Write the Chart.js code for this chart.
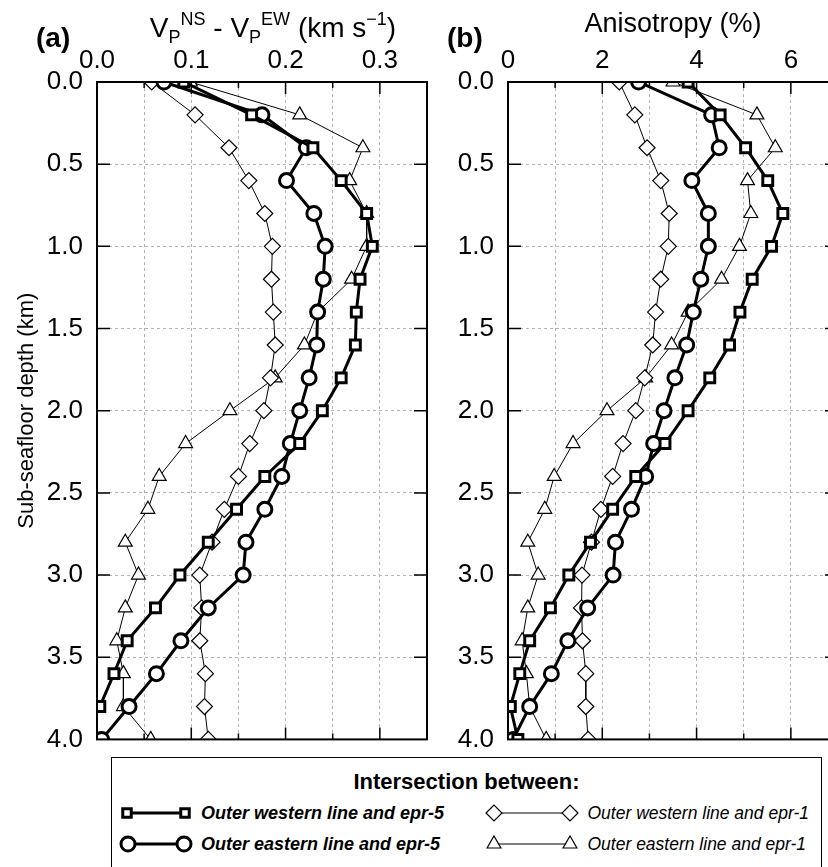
<!DOCTYPE html>
<html>
<head>
<meta charset="utf-8">
<script src="https://cdn.jsdelivr.net/npm/chart.js@4.4.1/dist/chart.umd.min.js"></script>
<style>
  html, body { margin: 0; padding: 0; background: #fff; overflow: hidden; }
  body { width: 828px; height: 867px; position: relative; font-family: 'Liberation Sans', Arial, sans-serif; }
  #panelA { position: absolute; left: 0; top: 0; }
  #panelB { position: absolute; left: 440px; top: 0; }
  #legend { position: absolute; left: 111px; top: 757px; width: 711px; height: 140px;
            border: 1.5px solid #000; box-sizing: border-box; background: #fff; }
  #legend .ltitle { position: absolute; left: 0; right: 0; top: 11px; text-align: center;
                    font-weight: bold; font-size: 22px; white-space: nowrap; }
  #legend .item { position: absolute; display: flex; align-items: center; height: 24px;
                  font-size: 18px; font-style: italic; white-space: nowrap; }
  #legend .item canvas { margin-right: 8px; }
</style>
</head>
<body>
<canvas id="panelA" width="440" height="769"></canvas>
<canvas id="panelB" width="410" height="769"></canvas>
<div id="legend"><div class="ltitle">Intersection between:</div></div>

<script>
// ---------------------------------------------------------
// Data
// ---------------------------------------------------------
const depths = [0.0, 0.2, 0.4, 0.6, 0.8, 1.0, 1.2, 1.4, 1.6, 1.8, 2.0,
                2.2, 2.4, 2.6, 2.8, 3.0, 3.2, 3.4, 3.6, 3.8, 4.0];

// (a) VP(NS) - VP(EW), km/s
const westEpr5Vel = [0.092, 0.164, 0.229, 0.259, 0.286, 0.292, 0.279, 0.275, 0.274, 0.259, 0.239,
                     0.215, 0.178, 0.148, 0.118, 0.088, 0.062, 0.032, 0.018, 0.003, -0.02];
const eastEpr5Vel = [0.071, 0.175, 0.222, 0.201, 0.230, 0.242, 0.240, 0.234, 0.233, 0.225, 0.215,
                     0.205, 0.196, 0.178, 0.158, 0.155, 0.118, 0.089, 0.063, 0.034, 0.005];
const westEpr1Vel = [0.058, 0.104, 0.140, 0.161, 0.178, 0.186, 0.185, 0.187, 0.189, 0.184, 0.177,
                     0.162, 0.150, 0.135, 0.122, 0.109, 0.111, 0.109, 0.115, 0.114, 0.118];
const eastEpr1Vel = [0.099, 0.215, 0.282, 0.268, 0.286, 0.286, 0.270, 0.234, 0.220, 0.189, 0.141,
                     0.094, 0.066, 0.054, 0.030, 0.044, 0.030, 0.021, 0.028, 0.028, 0.057];

// (b) anisotropy, %
const westEpr5Ani = [3.82, 4.50, 5.04, 5.51, 5.83, 5.59, 5.18, 4.92, 4.70, 4.28, 3.82,
                     3.33, 2.71, 2.22, 1.75, 1.29, 0.90, 0.46, 0.25, 0.05, 0.21];
const eastEpr5Ani = [2.77, 4.32, 4.48, 3.90, 4.25, 4.25, 4.09, 3.93, 3.79, 3.54, 3.31,
                     3.09, 2.92, 2.62, 2.28, 2.23, 1.69, 1.27, 0.92, 0.46, 0.11];
const westEpr1Ani = [2.36, 2.69, 2.95, 3.24, 3.42, 3.40, 3.24, 3.13, 3.07, 2.90, 2.71,
                     2.44, 2.22, 1.97, 1.77, 1.57, 1.56, 1.58, 1.65, 1.65, 1.70];
const eastEpr1Ani = [3.50, 5.28, 5.67, 5.08, 5.15, 4.91, 4.53, 3.82, 3.47, 2.92, 2.10,
                     1.38, 0.98, 0.78, 0.42, 0.64, 0.42, 0.30, 0.39, 0.46, 0.81];

const seriesNames = ['Outer western line and epr-5', 'Outer eastern line and epr-5',
                     'Outer western line and epr-1', 'Outer eastern line and epr-1'];

const depthTicks = [0, 0.5, 1, 1.5, 2, 2.5, 3, 3.5, 4];

// ---------------------------------------------------------
// Styles
// ---------------------------------------------------------
const FONT = "'Liberation Sans', Arial, sans-serif";
const GRID = '#b4b4b4';
Chart.defaults.font.family = FONT;
Chart.defaults.color = '#000';

const STYLES = [
  { pointStyle: 'rect',     pointRadius: 7, borderWidth: 3, pointBorderWidth: 3 },
  { pointStyle: 'circle',   pointRadius: 7, borderWidth: 3, pointBorderWidth: 3 },
  { pointStyle: 'rectRot',  pointRadius: 8, borderWidth: 1, pointBorderWidth: 1.2 },
  { pointStyle: 'triangle', pointRadius: 8, borderWidth: 1, pointBorderWidth: 1.2 },
];

function makeDatasets(seriesList) {
  return seriesList.map((vals, k) => ({
    label: seriesNames[k],
    data: depths.map((d, i) => ({ x: vals[i], y: d })),
    showLine: true,
    borderColor: '#000',
    backgroundColor: '#fff',
    pointBackgroundColor: '#fff',
    pointBorderColor: '#000',
    pointHoverRadius: STYLES[k].pointRadius,
    clip: 0,
    ...STYLES[k],
  }));
}

// frame + inward tick marks
const framePlugin = {
  id: 'frame',
  afterDatasetsDraw(chart, args, opts) {
    const { ctx, chartArea: a, scales } = chart;
    ctx.save();
    ctx.strokeStyle = '#000';
    ctx.lineWidth = 1.5;
    ctx.beginPath();
    scales.x.ticks.forEach(t => {
      const px = scales.x.getPixelForValue(t.value);
      if (px <= a.left + 1 || px >= a.right - 1) return;
      const len = opts.isMajorX(t.value) ? 12 : 6;
      ctx.moveTo(px, a.top); ctx.lineTo(px, a.top + len);
      ctx.moveTo(px, a.bottom); ctx.lineTo(px, a.bottom - len);
    });
    depthTicks.forEach(v => {
      const py = scales.y.getPixelForValue(v);
      if (py <= a.top + 1 || py >= a.bottom - 1) return;
      ctx.moveTo(a.left, py); ctx.lineTo(a.left + 13, py);
      ctx.moveTo(a.right, py); ctx.lineTo(a.right - 13, py);
    });
    ctx.stroke();
    ctx.lineWidth = 2;
    ctx.strokeRect(a.left, a.top, a.right - a.left, a.bottom - a.top);
    ctx.restore();
  },
};

// panel letter + rich axis title (sub/superscripts)
const textPlugin = {
  id: 'panelText',
  afterDraw(chart, args, opts) {
    const { ctx } = chart;
    ctx.save();
    ctx.fillStyle = '#000';
    ctx.textBaseline = 'alphabetic';
    ctx.font = 'bold 28px ' + FONT;
    ctx.fillText(opts.letter, opts.letterX, 47);
    if (opts.rich) {
      const big = '28px ' + FONT, small = '18px ' + FONT;
      let w = 0;
      opts.rich.forEach(([s, kind]) => {
        ctx.font = kind === 'n' ? big : small;
        w += ctx.measureText(s).width;
      });
      let x = opts.richX - w / 2;
      opts.rich.forEach(([s, kind]) => {
        ctx.font = kind === 'n' ? big : small;
        const dy = kind === 'sub' ? 6 : kind === 'sup' ? -12 : 0;
        ctx.fillText(s, x, 37 + dy);
        x += ctx.measureText(s).width;
      });
    }
    ctx.restore();
  },
};

const isTenth = v => Math.abs(v * 10 - Math.round(v * 10)) < 1e-6;
const isEven = v => Math.abs(v / 2 - Math.round(v / 2)) < 1e-6;

function createPanel(canvasId, cfg) {
  const ctx = document.getElementById(canvasId).getContext('2d');
  return new Chart(ctx, {
    type: 'scatter',
    data: { datasets: makeDatasets(cfg.series) },
    plugins: [framePlugin, textPlugin],
    options: {
      responsive: false,
      animation: false,
      events: [],
      layout: { padding: { left: 0, top: 0, right: cfg.padRight, bottom: 0 } },
      plugins: {
        legend: { display: false },
        tooltip: { enabled: false },
        frame: { isMajorX: cfg.isMajorX },
        panelText: { letter: cfg.letter, letterX: cfg.letterX, rich: cfg.rich, richX: cfg.richX },
      },
      scales: {
        x: {
          type: 'linear', position: 'top', min: 0, max: cfg.xMax,
          afterFit: s => { s.height = 82; },
          ticks: {
            stepSize: cfg.xStep, autoSkip: false, maxRotation: 0, padding: 6,
            font: { size: 26 }, color: '#000',
            callback: v => cfg.isMajorX(v) ? cfg.fmtX(v) : '',
          },
          grid: { color: GRID, lineWidth: 1, drawTicks: false },
          border: { display: false, dash: [3, 3] },
          title: cfg.xTitle ? { display: true, text: cfg.xTitle, font: { size: 27 }, color: '#000',
                                padding: { top: 8, bottom: 0 } } : { display: false },
        },
        y: {
          type: 'linear', position: 'left', min: 0, max: 4, reverse: true,
          afterFit: s => { s.width = cfg.yWidth; },
          afterBuildTicks: s => { s.ticks = depthTicks.map(v => ({ value: v })); },
          ticks: { padding: 14, font: { size: 26 }, color: '#000', callback: v => v.toFixed(1) },
          grid: { color: GRID, lineWidth: 1, drawTicks: false },
          border: { display: false, dash: [3, 3] },
          title: cfg.yTitle ? { display: true, text: cfg.yTitle, font: { size: 22 }, color: '#000',
                                padding: { top: 14, bottom: 0 } } : { display: false },
        },
      },
    },
  });
}

createPanel('panelA', {
  series: [westEpr5Vel, eastEpr5Vel, westEpr1Vel, eastEpr1Vel],
  xMax: 0.35, xStep: 0.05, isMajorX: isTenth, fmtX: v => v.toFixed(1),
  yWidth: 97, padRight: 13, letter: '(a)', letterX: 36,
  yTitle: 'Sub-seafloor depth (km)',
  rich: [['V', 'n'], ['P', 'sub'], ['NS', 'sup'], [' - V', 'n'], ['P', 'sub'], ['EW', 'sup'],
         [' (km s', 'n'], ['\u22121', 'sup'], [')', 'n']],
  richX: 273,
});

createPanel('panelB', {
  series: [westEpr5Ani, eastEpr5Ani, westEpr1Ani, eastEpr1Ani],
  xMax: 7, xStep: 1, isMajorX: isEven, fmtX: v => String(Math.round(v)),
  yWidth: 68, padRight: 12, letter: '(b)', letterX: 7,
  xTitle: 'Anisotropy (%)',
});

// ---------------------------------------------------------
// Shared legend (markers drawn with Chart.js point helper)
// ---------------------------------------------------------
const legendPos = [
  { left: 7,     top: 43, iconW: 74, bold: true,  size: 18 },
  { left: 7,     top: 74, iconW: 74, bold: true,  size: 18 },
  { left: 371.5, top: 43, iconW: 96, bold: false, size: 17.5 },
  { left: 371.5, top: 74, iconW: 96, bold: false, size: 17.5 },
];
const legendBox = document.getElementById('legend');
seriesNames.forEach((name, k) => {
  const p = legendPos[k], st = STYLES[k];
  const item = document.createElement('div');
  item.className = 'item';
  item.style.left = p.left + 'px';
  item.style.top = p.top + 'px';
  item.style.fontSize = p.size + 'px';
  if (p.bold) item.style.fontWeight = 'bold';
  const c = document.createElement('canvas');
  c.width = p.iconW; c.height = 24;
  const g = c.getContext('2d');
  const r = st.pointStyle === 'rect' ? 6 : st.pointRadius;
  const x0 = r + 2, x1 = p.iconW - r - 2, y = 12;
  g.strokeStyle = '#000'; g.fillStyle = '#fff';
  g.lineWidth = st.borderWidth;
  g.beginPath(); g.moveTo(x0, y); g.lineTo(x1, y); g.stroke();
  g.lineWidth = st.pointBorderWidth;
  [x0, x1].forEach(x => Chart.helpers.drawPoint(g, { pointStyle: st.pointStyle, radius: r,
                                                     borderWidth: st.pointBorderWidth, rotation: 0 }, x, y));
  item.appendChild(c);
  const span = document.createElement('span');
  span.textContent = name;
  item.appendChild(span);
  legendBox.appendChild(item);
});
</script>
</body>
</html>
